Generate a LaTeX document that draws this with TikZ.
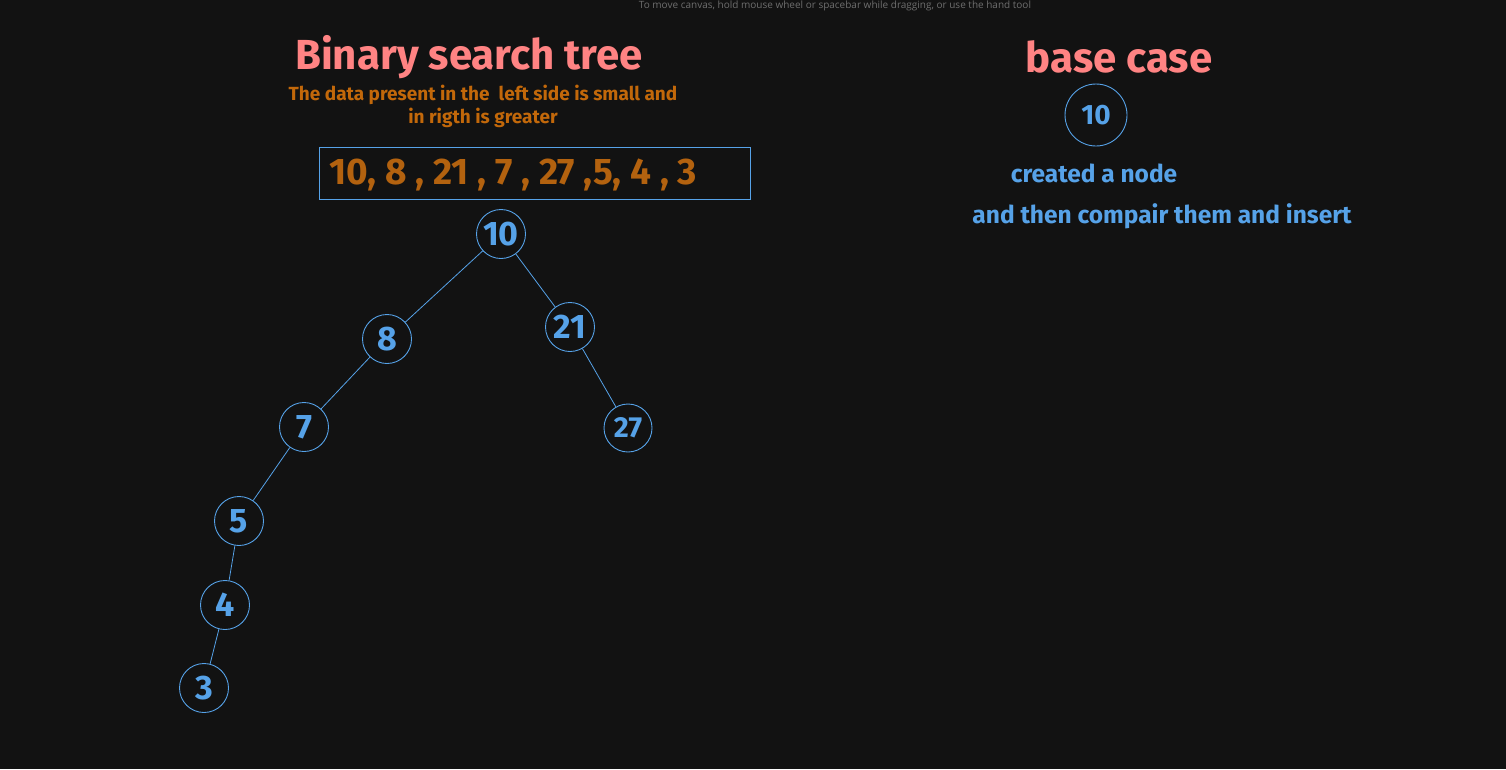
\documentclass[tikz,border=0pt]{standalone}
\usepackage{fontspec}
\setmainfont{Fira Sans}
\newfontfamily\hintfont{Open Sans}
\definecolor{bg}{HTML}{121212}
\definecolor{pinkt}{HTML}{FF8383}
\definecolor{oranget}{HTML}{C2680A}
\definecolor{seqc}{HTML}{B3620F}
\definecolor{bluet}{HTML}{56A2E8}
\definecolor{hintc}{HTML}{6E6E6E}
\tikzset{
  bnode/.style={circle,draw=bluet,line width=0.9pt,minimum size=49pt,inner sep=0pt,text=bluet,font=\fontsize{34}{34}\selectfont\bfseries},
  edge/.style={draw=bluet,line width=0.8pt},
  title/.style={text=pinkt,font=\fontsize{42}{42}\selectfont\bfseries},
  note/.style={text=oranget,font=\fontsize{19}{23}\selectfont\bfseries,align=center},
  bluenote/.style={text=bluet,font=\fontsize{24.5}{26}\selectfont\bfseries},
}
\begin{document}
\begin{tikzpicture}[x=1pt,y=-1pt]
\fill[bg] (0,0) rectangle (1506,769);
\useasboundingbox (0,0) rectangle (1506,769);
\node[anchor=base,text=hintc,font=\hintfont\fontsize{10}{10}\selectfont] (hint) at (835,8) {To move canvas, hold mouse wheel or spacebar while dragging, or use the hand tool};
\node[title] (t1) at (469,57) {Binary search tree};
\node[note] (sub) at (483,106) {The data present in the\ \ left side is small and\\in rigth is greater};
\node[draw=bluet,line width=0.9pt,minimum width=431pt,minimum height=52pt,inner sep=0pt] (box) at (534.5,173) {};
\node[text=seqc,font=\fontsize{37}{37}\selectfont\bfseries,anchor=west] (seq) at (326,175) {10, 8 , 21 , 7 , 27 ,5, 4 , 3};
\node[bnode] (n10) at (501,234) {10};
\node[bnode] (n8) at (387,339) {8};
\node[bnode] (n21) at (570,327) {21};
\node[bnode] (n7) at (304,427) {7};
\node[bnode,font=\fontsize{29}{29}\selectfont\bfseries,minimum size=48pt] (n27) at (628,428) {27};
\node[bnode] (n5) at (239,521) {5};
\node[bnode] (n4) at (225,605) {4};
\node[bnode] (n3) at (204,688) {3};
\draw[edge] (n10) -- (n8);
\draw[edge] (n10) -- (n21);
\draw[edge] (n8) -- (n7);
\draw[edge] (n21) -- (n27);
\draw[edge] (n7) -- (n5);
\draw[edge] (n5) -- (n4);
\draw[edge] (n4) -- (n3);
\node[title] (t2) at (1119,57) {base case};
\node[bnode,minimum size=62pt,font=\fontsize{28}{28}\selectfont\bfseries] (b10) at (1096,115) {10};
\node[bluenote] (c1) at (1094,173) {created a node};
\node[bluenote] (c2) at (1162,216) {and then compair them and insert};
\end{tikzpicture}
\end{document}
